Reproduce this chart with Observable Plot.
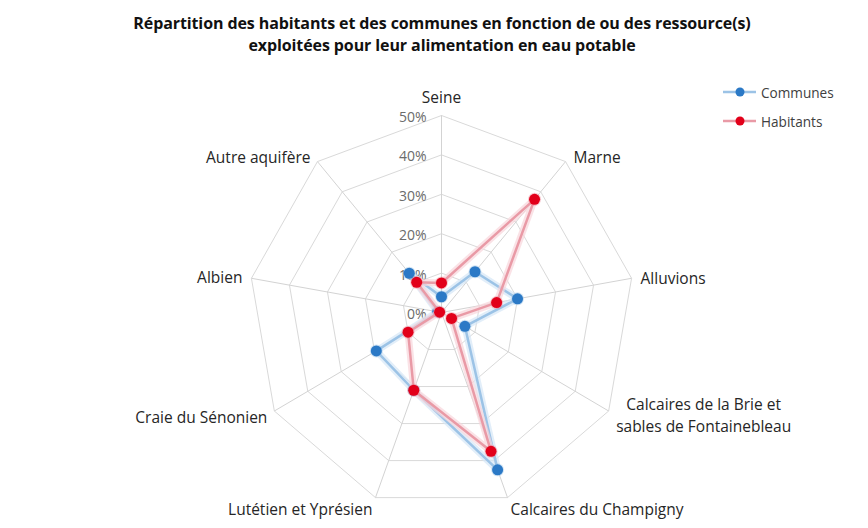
<!DOCTYPE html>
<html>
<head>
<meta charset="utf-8">
<script src="https://cdn.jsdelivr.net/npm/d3@7"></script>
<script src="https://cdn.jsdelivr.net/npm/@observablehq/plot@0.6"></script>
<style>
  html, body { margin: 0; padding: 0; background: #fff; }
  #wrap { position: relative; width: 868px; height: 528px; overflow: hidden; font-family: "Open Sans", sans-serif; }
  #chart { position: absolute; left: 0; top: 0; }
  #title { position: absolute; left: 0; top: 12px; width: 884px; text-align: center; font-weight: bold; font-size: 16px; line-height: 22px; color: #111; letter-spacing: -0.1px; }
  .leg { position: absolute; left: 722px; font-size: 13.6px; color: #404040; display: flex; align-items: center; }
  .leg svg { margin-right: 3px; }
</style>
</head>
<body>
<div id="wrap">
  <div id="chart"></div>
  <div id="title">Répartition des habitants et des communes en fonction de ou des ressource(s)<br>exploitées pour leur alimentation en eau potable</div>
  <div class="leg" style="top:82px"><svg width="36" height="20"><line x1="1" x2="34" y1="10" y2="10" stroke="#9cc3e6" stroke-width="2.5"/><circle cx="18" cy="10" r="4.5" fill="#2b79c6"/></svg><span>Communes</span></div>
  <div class="leg" style="top:111px"><svg width="36" height="20"><line x1="1" x2="34" y1="10" y2="10" stroke="#e99aa6" stroke-width="2.5"/><circle cx="18" cy="10" r="4.5" fill="#e2001a"/></svg><span>Habitants</span></div>
</div>
<script>
// ---- data ----
const categories = [
  "Seine", "Marne", "Alluvions",
  "Calcaires de la Brie et\nsables de Fontainebleau",
  "Calcaires du Champigny", "Lutétien et Yprésien",
  "Craie du Sénonien", "Albien", "Autre aquifère"
];
const communes  = [4, 13.5, 20, 7, 42.5, 21, 19.5, 1, 13];
const habitants = [7.5, 37.5, 14.5, 3, 37.5, 21, 10, 0.5, 10];
const ticks = [0, 10, 20, 30, 40, 50];
const tickLabels = ["0%", "10%", "20%", "30%", "40%", "50%"];

// ---- styling / layout config ----
const labelOffsets = [
  {dx: 0, dy: -20, anchor: "middle"},
  {dx: 8, dy: -6, anchor: "start"},
  {dx: 9, dy: -1, anchor: "start"},
  {dx: 95, dy: 3, anchor: "middle"},
  {dx: 3, dy: 10, anchor: "start"},
  {dx: -3, dy: 10, anchor: "end"},
  {dx: -7, dy: 5, anchor: "end"},
  {dx: -9, dy: -2, anchor: "end"},
  {dx: -7, dy: -6, anchor: "end"}
];
const n = categories.length;
const ang = i => i * 2 * Math.PI / n;
const px = (r, i) => r * Math.sin(ang(i));
const py = (r, i) => r * Math.cos(ang(i));

// grid rings
const rings = [];
ticks.filter(t => t > 0).forEach(t => {
  for (let i = 0; i <= n; i++) rings.push({ring: t, x: px(t, i % n), y: py(t, i % n)});
});
const spokes = categories.map((c, i) => ({x1: 0, y1: 0, x2: px(50, i), y2: py(50, i)}));
const series = (vals, name) => {
  const pts = vals.map((v, i) => ({name, x: px(v, i), y: py(v, i)}));
  return {pts, closed: [...pts, pts[0]]};
};
const com = series(communes, "Communes");
const hab = series(habitants, "Habitants");

const cx = 441, cy = 312, rx = 193, ry = 197;

const chart = Plot.plot({
  width: 868,
  height: 528,
  x: {domain: [-50, 50], range: [cx - rx, cx + rx], axis: null},
  y: {domain: [-50, 50], range: [cy + ry, cy - ry], axis: null},
  style: {fontFamily: "Open Sans, sans-serif", background: "transparent"},
  marks: [
    Plot.line(rings, {x: "x", y: "y", z: "ring", stroke: "#d9d9d9", strokeWidth: 1}),
    Plot.link(spokes, {x1: "x1", y1: "y1", x2: "x2", y2: "y2", stroke: "#d3d3d3", strokeWidth: 1}),
    Plot.text(ticks, {x: 0, y: d => d, text: (d, i) => tickLabels[i], textAnchor: "end", dx: -15, dy: 2, fill: "#6b6b6b", fontSize: 14}),
    // Communes
    Plot.line(com.closed, {x: "x", y: "y", stroke: "#d6e7f6", strokeWidth: 7, strokeOpacity: 0.7}),
    Plot.line(com.closed, {x: "x", y: "y", stroke: "#9cc3e6", strokeWidth: 2.5}),
    Plot.dot(com.pts, {x: "x", y: "y", r: 6.5, fill: "#9cc3e6", fillOpacity: 0.45}),
    Plot.dot(com.pts, {x: "x", y: "y", r: 5.5, fill: "#2b79c6"}),
    // Habitants
    Plot.line(hab.closed, {x: "x", y: "y", stroke: "#f8d6db", strokeWidth: 7, strokeOpacity: 0.7}),
    Plot.line(hab.closed, {x: "x", y: "y", stroke: "#e99aa6", strokeWidth: 2.5}),
    Plot.dot(hab.pts, {x: "x", y: "y", r: 6.5, fill: "#f08a98", fillOpacity: 0.45}),
    Plot.dot(hab.pts, {x: "x", y: "y", r: 5.5, fill: "#e2001a"}),
    // category labels
    ...categories.map((c, i) => Plot.text([c], {
      x: px(50, i), y: py(50, i), text: d => d,
      dx: labelOffsets[i].dx, dy: labelOffsets[i].dy, textAnchor: labelOffsets[i].anchor,
      fill: "#262626", fontSize: 15.5, lineHeight: 1.42
    }))
  ]
});
document.getElementById("chart").appendChild(chart);
</script>
</body>
</html>
